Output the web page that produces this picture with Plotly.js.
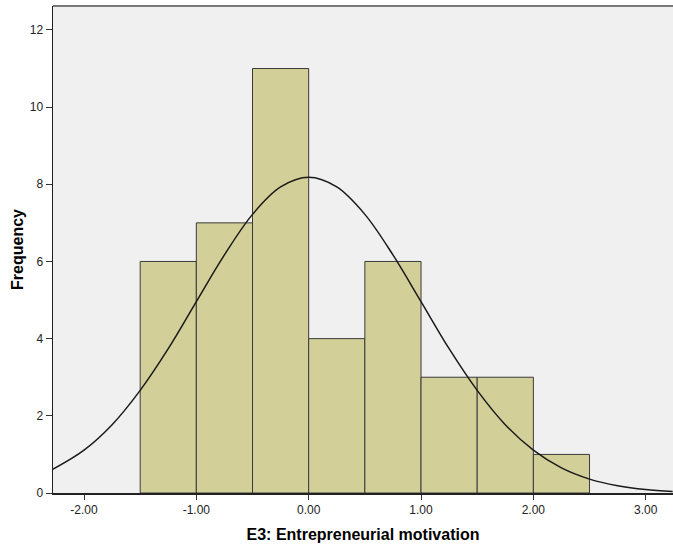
<!DOCTYPE html>
<html>
<head>
<meta charset="utf-8">
<script src="https://cdn.plot.ly/plotly-3.0.1.min.js"></script>
<style>html,body{margin:0;padding:0;background:#fff;}#chart{width:673px;height:548px;}</style>
</head>
<body>
<div id="chart"></div>
<script>
// Histogram bins (centers) and frequencies
const binCenters = [-1.25, -0.75, -0.25, 0.25, 0.75, 1.25, 1.75, 2.25];
const frequencies = [6, 7, 11, 4, 6, 3, 3, 1];
const binWidth = 0.5;

// Normal curve
const curveX = [-2.28, -2.0, -1.75, -1.5, -1.25, -1.0, -0.75, -0.5, -0.25, 0, 0.25, 0.5, 0.75, 1.0, 1.25, 1.5, 1.75, 2.0, 2.25, 2.5, 2.75, 3.0, 3.24];
const curveY = [0.61, 1.11, 1.77, 2.66, 3.74, 4.96, 6.17, 7.22, 7.93, 8.18, 7.93, 7.22, 6.17, 4.96, 3.74, 2.66, 1.77, 1.11, 0.65, 0.36, 0.19, 0.09, 0.04];

const xTicks = [-2, -1, 0, 1, 2, 3];
const xTickText = ["-2.00", "-1.00", "0.00", "1.00", "2.00", "3.00"];
const yTicks = [0, 2, 4, 6, 8, 10, 12];

const traces = [
  {
    type: 'bar',
    x: binCenters,
    y: frequencies,
    width: binCenters.map(() => binWidth),
    marker: {color: '#d3cf98', line: {color: '#3a3a3a', width: 1}},
    hoverinfo: 'skip'
  },
  {
    type: 'scatter',
    mode: 'lines',
    x: curveX,
    y: curveY,
    line: {color: '#1a1a1a', width: 1.5, shape: 'spline', smoothing: 1.0},
    hoverinfo: 'skip'
  }
];

const titleFont = {size: 16, color: '#000', family: 'Liberation Sans, Arial, sans-serif', weight: 'bold'};

const layout = {
  width: 673, height: 548,
  margin: {l: 53, r: 0, t: 6, b: 55},
  paper_bgcolor: '#ffffff',
  plot_bgcolor: '#f0f0f0',
  showlegend: false,
  bargap: 0,
  font: {family: 'Liberation Sans, Arial, sans-serif', color: '#222222', size: 12},
  xaxis: {
    range: [-2.276, 3.243],
    tickvals: xTicks, ticktext: xTickText,
    ticks: 'outside', ticklen: 5, tickwidth: 1, tickcolor: '#333',
    showgrid: false, zeroline: false,
    showline: true, linecolor: '#222', linewidth: 1.5,
    tickfont: {size: 12, color: '#222'},
    title: {text: 'E3: Entrepreneurial motivation', font: titleFont, standoff: 13}
  },
  yaxis: {
    range: [0, 12.62],
    tickvals: yTicks,
    ticks: 'outside', ticklen: 6, tickwidth: 1, tickcolor: '#333',
    showgrid: false, zeroline: false,
    showline: true, linecolor: '#222', linewidth: 1.5,
    tickfont: {size: 12, color: '#222'},
    title: {text: 'Frequency', font: titleFont, standoff: 2}
  },
  shapes: [
    {type: 'line', xref: 'paper', yref: 'paper', x0: 0, x1: 1, y0: 1, y1: 1, line: {color: '#777', width: 2}}
  ]
};

Plotly.newPlot('chart', traces, layout, {displayModeBar: false, staticPlot: true});
</script>
</body>
</html>
